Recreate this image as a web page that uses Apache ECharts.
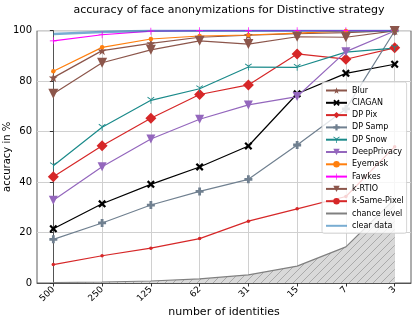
<!DOCTYPE html>
<html>
<head>
<meta charset="utf-8">
<script src="https://cdn.jsdelivr.net/npm/echarts@6/dist/echarts.min.js"></script>
<style>
  html, body { margin: 0; padding: 0; background: #fff; }
  #chart { width: 415px; height: 322px; }
</style>
</head>
<body>
<div id="chart"></div>
<script>
// number of identities (x tick labels)
var identities = ['500', '250', '125', '62', '31', '15', '7', '3'];

// accuracy in % per method
var blur        = [81.4, 92.1, 95.0, 97.4, 98.2, 98.8, 99.2, 100];
var ciagan      = [21.5, 31.4, 39.1, 46.0, 54.3, 75.0, 83.1, 86.7];
var dpPix       = [42.1, 54.4, 65.3, 74.7, 78.5, 90.8, 88.7, 93.2];
var dpSamp      = [17.3, 23.8, 30.9, 36.3, 41.1, 54.7, 69.0, 99.9];
var dpSnow      = [46.5, 61.7, 72.4, 77.0, 85.6, 85.5, 91.5, 93.1];
var deepPrivacy = [32.8, 46.1, 57.1, 64.9, 70.6, 73.9, 91.7, 99.9];
var eyemask     = [83.9, 93.4, 96.7, 97.9, 98.3, 99.0, 99.9, 100];
var fawkes      = [96.0, 98.4, 99.8, 100, 100, 100, 100, 100];
var kRTIO       = [75.0, 87.3, 92.4, 96.0, 94.7, 97.6, 97.4, 99.9];
var kSamePixel  = [7.3, 10.8, 13.8, 17.6, 24.5, 29.4, 34.3, 54.0];
var chance      = [0.2, 0.4, 0.8, 1.6, 3.2, 6.7, 14.3, 33.3];
var clearData   = [98.7, 99.5, 100, 100, 100, 100, 100, 100];

var yTicks = [0, 20, 40, 60, 80, 100];

var STAR = 'path://M0,-10 L2.35,-3.24 L9.51,-3.09 L3.8,1.24 L5.88,8.09 L0,4 L-5.88,8.09 L-3.8,1.24 L-9.51,-3.09 L-2.35,-3.24Z';
var XMARK = 'path://M-10,-6 L-6,-10 L0,-4 L6,-10 L10,-6 L4,0 L10,6 L6,10 L0,4 L-6,10 L-10,6 L-4,0Z';
var PLUS = 'path://M-3.5,-10 L3.5,-10 L3.5,-3.5 L10,-3.5 L10,3.5 L3.5,3.5 L3.5,10 L-3.5,10 L-3.5,3.5 L-10,3.5 L-10,-3.5 L-3.5,-3.5Z';
var THINPLUS = 'path://M-1,-10 L1,-10 L1,-1 L10,-1 L10,1 L1,1 L1,10 L-1,10 L-1,1 L-10,1 L-10,-1 L-1,-1Z';
var TRI = 'path://M-1,0 L-1,10 L1,10 L1,0 L9,-5 L8,-7 L0,-2 L-8,-7 L-9,-5Z';

function pts(arr) {
  return arr.map(function (v, i) { return [i, v]; });
}

// hatch pattern for chance level area
var hatch = document.createElement('canvas');
hatch.width = 8; hatch.height = 8;
var hc = hatch.getContext('2d');
hc.fillStyle = '#d9d9d9';
hc.fillRect(0, 0, 8, 8);
hc.strokeStyle = '#8a8a8a';
hc.lineWidth = 0.6;
hc.beginPath();
hc.moveTo(0, 8); hc.lineTo(8, 0);
hc.moveTo(-1, 1); hc.lineTo(1, -1);
hc.moveTo(7, 9); hc.lineTo(9, 7);
hc.stroke();

function line(name, data, color, symbol, size, extra) {
  var s = {
    name: name,
    type: 'line',
    data: pts(data),
    symbol: symbol,
    symbolSize: size,
    showSymbol: true,
    lineStyle: { color: color, width: 1.2 },
    itemStyle: { color: color },
    emphasis: { disabled: true },
    animation: false
  };
  if (extra) Object.assign(s, extra);
  return s;
}

var myChart = echarts.init(document.getElementById('chart'));

var legendNames = ['Blur', 'CIAGAN', 'DP Pix', 'DP Samp', 'DP Snow', 'DeepPrivacy', 'Eyemask', 'Fawkes', 'k-RTIO', 'k-Same-Pixel', 'chance level', 'clear data'];

var option = {
  animation: false,
  title: {
    text: 'accuracy of face anonymizations for Distinctive strategy',
    left: 224,
    top: 0,
    textAlign: 'center',
    textStyle: { fontFamily: 'DejaVu Sans', fontSize: 11, fontWeight: 'normal', color: '#000' }
  },
  grid: {
    left: 37, right: 4, top: 30.7, bottom: 39,
    outerBoundsMode: 'none',
    containLabel: false,
    show: true, borderColor: '#333', borderWidth: 0.8, backgroundColor: 'transparent'
  },
  legend: {
    orient: 'vertical',
    left: 322,
    top: 82,
    padding: [4, 3, 3, 3],
    itemWidth: 21,
    itemHeight: 8,
    itemGap: 3.3,
    backgroundColor: 'rgba(255,255,255,0.8)',
    borderColor: '#cccccc',
    borderWidth: 0.8,
    borderRadius: 2,
    textStyle: { fontFamily: 'DejaVu Sans', fontSize: 8, lineHeight: 9, color: '#000', padding: [0, 0, 0, 0] },
    data: legendNames.map(function (n) {
      if (n === 'chance level' || n === 'clear data') {
        return { name: n, itemStyle: { opacity: 0 } };
      }
      return { name: n };
    })
  },
  xAxis: {
    type: 'value',
    min: -0.335,
    max: 7.335,
    name: 'number of identities',
    nameLocation: 'middle',
    nameGap: 24,
    nameMoveOverlap: false,
    nameTextStyle: { fontFamily: 'DejaVu Sans', fontSize: 11, color: '#000', verticalAlign: 'top' },
    axisLine: { show: true, lineStyle: { color: '#333', width: 0.8 } },
    axisTick: { show: true, length: 3.5, customValues: [0, 1, 2, 3, 4, 5, 6, 7], lineStyle: { color: '#333' } },
    axisLabel: {
      customValues: [0, 1, 2, 3, 4, 5, 6, 7],
      rotate: 45,
      margin: 5,
      fontFamily: 'DejaVu Sans',
      fontSize: 9,
      color: '#000',
      formatter: function (v) { return identities[Math.round(v)]; }
    },
    splitLine: { show: true, customValues: [0, 1, 2, 3, 4, 5, 6, 7], lineStyle: { color: '#d0d0d0', width: 1 } }
  },
  yAxis: {
    type: 'value',
    min: 0,
    max: 100,
    interval: 20,
    name: 'accuracy in %',
    nameLocation: 'middle',
    nameGap: 25,
    nameMoveOverlap: false,
    nameTextStyle: { fontFamily: 'DejaVu Sans', fontSize: 10, color: '#000' },
    axisLine: { show: true, lineStyle: { color: '#333', width: 0.8 } },
    axisTick: { show: true, length: 3.5, lineStyle: { color: '#333' } },
    axisLabel: {
      margin: 5,
      fontFamily: 'DejaVu Sans',
      fontSize: 10,
      color: '#000',
      formatter: function (v) { return yTicks.indexOf(v) >= 0 ? String(v) : ''; }
    },
    splitLine: { show: true, lineStyle: { color: '#d0d0d0', width: 1 } }
  },
  series: [
    line('chance level', chance, '#808080', 'none', 0, {
      areaStyle: { color: { image: hatch, repeat: 'repeat' }, opacity: 1 },
      z: 1
    }),
    line('Blur', blur, '#8c564b', STAR, 9),
    line('CIAGAN', ciagan, '#000000', XMARK, 8),
    line('DP Pix', dpPix, '#d62728', 'diamond', 11),
    line('DP Samp', dpSamp, '#708090', PLUS, 8),
    line('DP Snow', dpSnow, '#1a8a8a', TRI, 7),
    line('DeepPrivacy', deepPrivacy, '#9467bd', 'triangle', 9, { symbolRotate: 180 }),
    line('Eyemask', eyemask, '#ff7f0e', 'circle', 4.5),
    line('Fawkes', fawkes, '#ff00ff', THINPLUS, 7),
    line('k-RTIO', kRTIO, '#8c564b', 'triangle', 10, { symbolRotate: 180 }),
    line('k-Same-Pixel', kSamePixel, '#d62728', 'circle', 3.5),
    line('clear data', clearData, 'rgba(31,119,180,0.6)', 'none', 0, {
      lineStyle: { color: 'rgba(31,119,180,0.6)', width: 2.5 }
    })
  ]
};

myChart.setOption(option);
</script>
</body>
</html>
